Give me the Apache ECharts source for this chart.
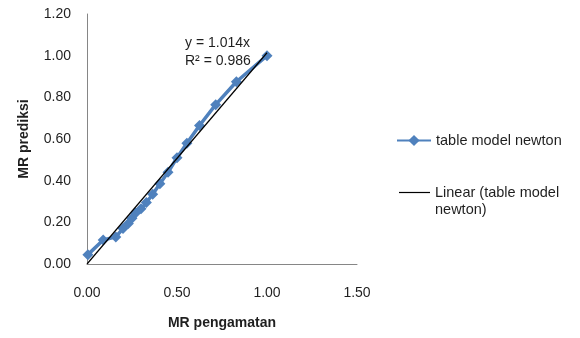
<!DOCTYPE html>
<html>
<head>
<meta charset="utf-8">
<script src="https://cdn.jsdelivr.net/npm/echarts@6/dist/echarts.min.js"></script>
<style>
html,body{margin:0;padding:0;background:#fff;}
#chart{width:580px;height:338px;}
</style>
</head>
<body>
<div id="chart"></div>
<script>
// Data
const mrObserved  = [0.005, 0.09, 0.16, 0.20, 0.23, 0.25, 0.27, 0.30, 0.33, 0.365, 0.405, 0.45, 0.50, 0.555, 0.625, 0.715, 0.83, 1.00];
const mrPredicted = [0.045, 0.115, 0.13, 0.17, 0.195, 0.22, 0.245, 0.265, 0.295, 0.335, 0.385, 0.44, 0.51, 0.58, 0.665, 0.765, 0.875, 1.00];
const seriesName = 'table model newton';
const trendName = 'Linear (table model newton)';
const trendSlope = 1.014;
const trendR2 = 0.986;
const trendRange = [0, 1.0];
const xAxisRange = [0, 1.5, 0.5];
const yAxisRange = [0, 1.2, 0.2];

const FONT = '"Liberation Sans", Arial, sans-serif';
const TXT = '#1f1f1f';
const LEG_FONT = 14.5;

const seriesData = mrObserved.map((x, i) => [x, mrPredicted[i]]);
const trendData = trendRange.map(x => [x, trendSlope * x]);

const chart = echarts.init(document.getElementById('chart'), null, {renderer: 'canvas'});
chart.setOption({
  animation: false,
  backgroundColor: '#fff',
  textStyle: {fontFamily: FONT},
  grid: {left: 87, right: 223, top: 14, bottom: 74, containLabel: false},
  xAxis: {
    type: 'value',
    min: xAxisRange[0], max: xAxisRange[1], interval: xAxisRange[2],
    name: 'MR pengamatan', nameLocation: 'middle', nameGap: 52,
    nameTextStyle: {fontFamily: FONT, fontSize: 14, fontWeight: 'bold', color: TXT},
    axisLine: {show: true, onZero: false, lineStyle: {color: '#868686', width: 1}},
    axisTick: {show: false},
    splitLine: {show: false},
    axisLabel: {fontFamily: FONT, fontSize: 14, color: TXT, margin: 22, formatter: v => v.toFixed(2)}
  },
  yAxis: {
    type: 'value',
    min: yAxisRange[0], max: yAxisRange[1], interval: yAxisRange[2],
    name: 'MR prediksi', nameLocation: 'middle', nameGap: 56, nameRotate: 90,
    nameTextStyle: {fontFamily: FONT, fontSize: 14, fontWeight: 'bold', color: TXT},
    axisLine: {show: true, onZero: false, lineStyle: {color: '#868686', width: 1}},
    axisTick: {show: false},
    splitLine: {show: false},
    axisLabel: {fontFamily: FONT, fontSize: 14, color: TXT, margin: 16, formatter: v => v.toFixed(2)}
  },
  legend: [
    {
      data: [seriesName],
      orient: 'vertical', left: 396, top: 133, padding: 0,
      itemWidth: 34, itemHeight: 14, itemGap: 5,
      textStyle: {fontFamily: FONT, fontSize: LEG_FONT, color: TXT}
    },
    {
      data: [{name: trendName, icon: 'rect'}],
      orient: 'vertical', left: 399, top: 185, padding: 0,
      itemWidth: 31, itemHeight: 1.2,
      itemStyle: {color: '#000'},
      formatter: () => 'Linear (table model',
      textStyle: {fontFamily: FONT, fontSize: LEG_FONT, color: TXT}
    }
  ],
  graphic: [
    {type: 'text', left: 185, top: 36, style: {text: 'y = ' + trendSlope.toFixed(3) + 'x', font: '14px ' + FONT, fill: TXT}},
    {type: 'text', left: 185, top: 54, style: {text: 'R\u00B2 = ' + trendR2.toFixed(3), font: '14px ' + FONT, fill: TXT}},
    {type: 'text', left: 435, top: 202, style: {text: 'newton)', font: LEG_FONT + 'px ' + FONT, fill: TXT}}
  ],
  series: [
    {
      name: seriesName,
      type: 'line',
      data: seriesData,
      symbol: 'diamond',
      symbolSize: 11,
      showSymbol: true,
      itemStyle: {color: '#4F81BD'},
      lineStyle: {color: '#4F81BD', width: 3.5},
      z: 2
    },
    {
      name: trendName,
      type: 'line',
      data: trendData,
      symbol: 'none',
      itemStyle: {color: '#000'},
      lineStyle: {color: '#000', width: 1.2},
      z: 3
    }
  ]
});
</script>
</body>
</html>
